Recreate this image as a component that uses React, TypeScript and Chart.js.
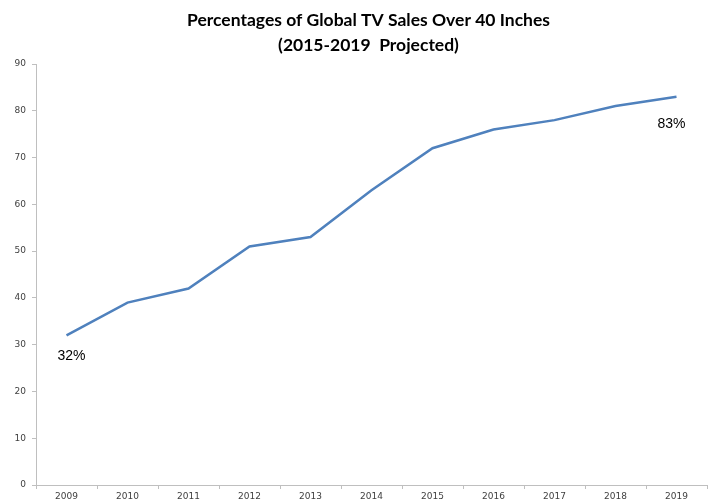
import React, { useEffect, useRef } from "react";
import { Chart, registerables } from "chart.js";

Chart.register(...registerables);

const years = ["2009", "2010", "2011", "2012", "2013", "2014", "2015", "2016", "2017", "2018", "2019"];
const salesPct = [32, 39, 42, 51, 53, 63, 72, 76, 78, 81, 83];
const titleLines = ["Percentages of Global TV Sales Over 40 Inches", "(2015-2019  Projected)"];
const labeledIdx = [0, 10];

const endLabels = {
  id: "endLabels",
  afterDatasetsDraw(chart: any) {
    const ctx = chart.ctx;
    const meta = chart.getDatasetMeta(0);
    ctx.save();
    ctx.font = "14px 'Liberation Sans', Arial, sans-serif";
    ctx.fillStyle = "#000";
    ctx.textAlign = "center";
    ctx.textBaseline = "middle";
    labeledIdx.forEach((i) => {
      const p = meta.data[i];
      const dx = i === 0 ? 5 : -5;
      const dy = i === 0 ? 21 : 27;
      ctx.fillText(salesPct[i] + "%", p.x + dx, p.y + dy);
    });
    ctx.restore();
  },
};

const plotTitle = {
  id: "plotTitle",
  afterDraw(chart: any) {
    const ctx = chart.ctx;
    const a = chart.chartArea;
    const cx = (a.left + a.right) / 2 - 3;
    ctx.save();
    ctx.font = "bold 17.5px Lato, 'Open Sans', sans-serif";
    ctx.fillStyle = "#000";
    ctx.textAlign = "center";
    ctx.textBaseline = "middle";
    titleLines.forEach((t, i) => {
      ctx.fillText(t, cx, 20 + i * 25);
    });
    ctx.restore();
  },
};

export default function App() {
  const ref = useRef<HTMLCanvasElement>(null);
  useEffect(() => {
    document.body.style.margin = "0";
    const chart = new Chart(ref.current!, {
      type: "line",
      data: {
        labels: years,
        datasets: [
          {
            data: salesPct,
            borderColor: "#4F81BD",
            borderWidth: 2.5,
            pointRadius: 0,
            tension: 0,
          },
        ],
      },
      options: {
        animation: false,
        responsive: false,
        layout: { padding: { top: 64, right: 7, left: 0, bottom: 0 } },
        plugins: {
          legend: { display: false },
          tooltip: { enabled: false },
          title: { display: false },
        },
        scales: {
          x: {
            offset: true,
            grid: {
              offset: true,
              drawOnChartArea: false,
              drawTicks: true,
              tickLength: 4,
              color: "#BFBFBF",
            },
            border: { color: "#BFBFBF", width: 1 },
            ticks: {
              color: "#404040",
              font: { family: "'DejaVu Sans', Verdana, sans-serif", size: 9 },
              padding: 2,
              maxRotation: 0,
            },
            afterFit: (s: any) => {
              s.height = 19;
            },
          },
          y: {
            min: 0,
            max: 90,
            ticks: {
              stepSize: 10,
              color: "#404040",
              font: { family: "'DejaVu Sans', Verdana, sans-serif", size: 9 },
              padding: 6,
            },
            grid: {
              drawOnChartArea: false,
              drawTicks: true,
              tickLength: 4,
              color: "#BFBFBF",
            },
            border: { color: "#BFBFBF", width: 1 },
            afterFit: (s: any) => {
              s.width = 36;
            },
          },
        },
      },
      plugins: [endLabels, plotTitle],
    });
    return () => chart.destroy();
  }, []);
  return (
    <div style={{ width: 714, height: 504 }}>
      <canvas ref={ref} width={714} height={504} style={{ display: "block" }} />
    </div>
  );
}
